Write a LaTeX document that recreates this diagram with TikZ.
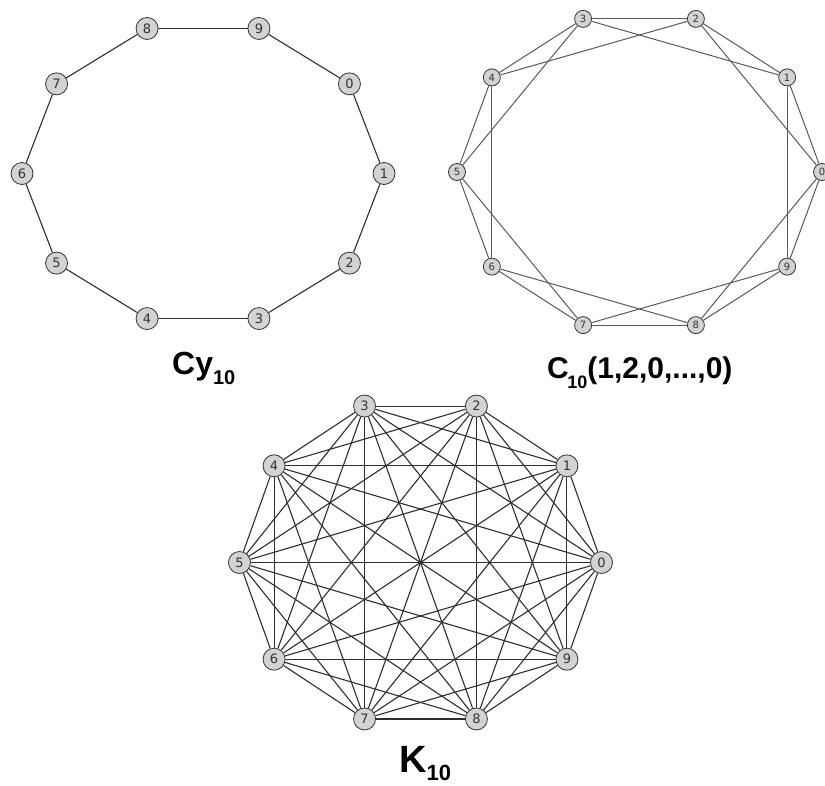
\documentclass[tikz,border=0pt]{standalone}
\usepackage{fontspec}
\setmainfont{DejaVu Sans}
\newfontfamily\capfont{Liberation Sans}
\usepackage{xcolor}
\usepackage{tikz}

\definecolor{vtxfill}{HTML}{D3D3D3}
\definecolor{vtxline}{HTML}{333333}
\definecolor{darkedge}{HTML}{2E2E2E}
\definecolor{grayedge}{HTML}{5A5A5A}

\begin{document}
\begin{tikzpicture}[
  x=1pt, y=-1pt,
  vtx/.style={circle,draw=vtxline,fill=vtxfill,line width=0.8pt,inner sep=0pt,minimum size=22pt,text=vtxline,font=\fontsize{13}{13}\selectfont},
  smallvtx/.style={vtx,minimum size=17pt,font=\fontsize{10}{10}\selectfont},
  edge/.style={draw=darkedge,line width=1.1pt},
  grayedge/.style={draw=grayedge,line width=1pt},
  caption/.style={anchor=base west,inner sep=0pt,font=\capfont\bfseries}
]
\useasboundingbox (0,0) rectangle (825,785);

% cycle graph
\foreach \k in {0,...,9}
  \node[vtx] (cy\k) at ({203+181*cos(36*(1-\k))},{173.5-152.5*sin(36*(1-\k))}) {\k};
\foreach \k [evaluate=\k as \j using {int(mod(\k+1,10))}] in {0,...,9}
  \draw[edge] (cy\k) -- (cy\j);
\node[caption] (cycap) at (172,374) {\fontsize{32}{32}\selectfont Cy\raisebox{-10pt}{\fontsize{20}{20}\selectfont 10}};

% circulant graph
\foreach \k in {0,...,9}
  \node[smallvtx] (ci\k) at ({639.5+182.5*cos(36*\k)},{172-161*sin(36*\k)}) {\k};
\foreach \k [evaluate=\k as \j using {int(mod(\k+1,10))}, evaluate=\k as \m using {int(mod(\k+2,10))}] in {0,...,9} {
  \draw[grayedge] (ci\k) -- (ci\j);
  \draw[grayedge] (ci\k) -- (ci\m);
}
\node[caption] (cicap) at (547,378) {\fontsize{30}{30}\selectfont C\kern-1.5pt\raisebox{-10pt}{\fontsize{18}{18}\selectfont 10}(1,2,0,...,0)};

% complete graph
\foreach \k in {0,...,9}
  \node[vtx] (kn\k) at ({420.5+181*cos(36*\k)},{562.5-164.5*sin(36*\k)}) {\k};
\foreach \i in {0,...,8} {
  \pgfmathtruncatemacro\s{\i+1}
  \foreach \j in {\s,...,9}
    \draw[edge] (kn\i) -- (kn\j);
}
\node[caption] (kncap) at (399,772) {\fontsize{38}{38}\selectfont K\raisebox{-8pt}{\fontsize{22}{22}\selectfont 10}};
\end{tikzpicture}
\end{document}
